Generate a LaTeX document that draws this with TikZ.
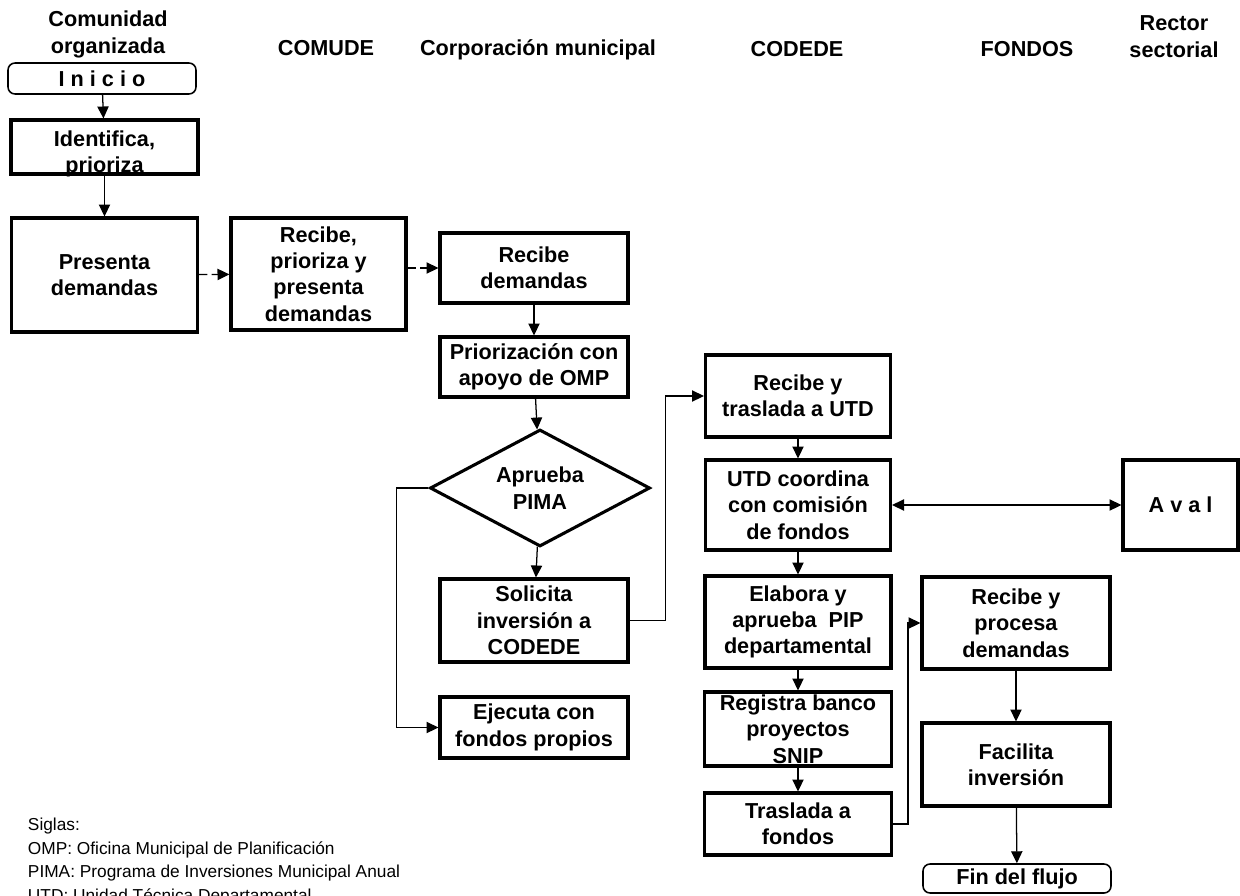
\documentclass[tikz,border=0pt]{standalone}
\usepackage{fontspec}
\setmainfont{Liberation Sans}
\usepackage{tikz}
\usetikzlibrary{arrows.meta,shapes.geometric,positioning}

\tikzset{
  caja/.style={draw, line width=2.2pt, align=center, inner sep=1pt,
    font=\fontsize{15.4}{18.7}\selectfont\bfseries},
  terminal/.style={caja, line width=1.1pt, rounded corners=5pt},
  decision/.style={caja, diamond, aspect=1.9, inner sep=0pt},
  tam/.style 2 args={minimum width=#1*0.025cm, minimum height=#2*0.025cm},
  encab/.style={align=center, font=\fontsize{15.4}{18.7}\selectfont\bfseries},
  flecha/.style={->, line width=0.9pt},
  discont/.style={dash pattern=on 6pt off 3pt},
}

\begin{document}
\begin{tikzpicture}[x=0.025cm, y=-0.025cm, >={Triangle[length=8.5pt,width=8pt]}]
  \useasboundingbox (0,0) rectangle (1240,895);

  % encabezados de columna
  \node[encab, anchor=base] (hcom)  at (108,53)  {Comunidad\\organizada};
  \node[encab, anchor=base] (hcmu)  at (326,55)  {COMUDE};
  \node[encab, anchor=base] (hcor)  at (538,55)  {Corporación municipal};
  \node[encab, anchor=base] (hcod)  at (797,56)  {CODEDE};
  \node[encab, anchor=base] (hfon)  at (1027,56) {FONDOS};
  \node[encab, anchor=base] (hrec)  at (1174,57) {Rector\\sectorial};

  % comunidad organizada
  \node[terminal, tam={188}{31}]  (ini)  at (102,78.5) {I n i c i o};
  \node[caja, tam={187}{54},
    label={[encab, yshift=-5pt]center:Identifica,\\prioriza}] (ide) at (104.5,147) {};
  \node[caja, tam={186}{114}]     (pre)  at (104.5,275) {Presenta\\demandas};

  % COMUDE
  \node[caja, tam={175}{112}]     (rpp)  at (318.5,274) {Recibe,\\prioriza y\\presenta\\demandas};

  % corporacion municipal
  \node[caja, tam={188}{70}]      (rde)  at (534,268) {Recibe\\demandas};
  \node[caja, tam={188}{60}]      (pri)  at (534,367) {Priorización con\\apoyo de OMP};
  \node[decision, tam={220}{117}] (apr)  at (540,488) {Aprueba\\PIMA};
  \node[caja, tam={188}{83}]      (sol)  at (534,620.5) {Solicita\\inversión a\\CODEDE};
  \node[caja, tam={188}{61}]      (eje)  at (534,727.5) {Ejecuta con\\fondos propios};

  % CODEDE
  \node[caja, tam={185}{82}]      (rtu)  at (798,396) {Recibe y\\traslada a UTD};
  \node[caja, tam={185}{90}]      (utd)  at (798,505) {UTD coordina\\con comisión\\de fondos};
  \node[caja, tam={186}{92}]      (ela)  at (798,622) {Elabora y\\aprueba~~PIP\\departamental};
  \node[caja, tam={187}{74},
    label={[encab]center:Registra banco\\proyectos\\SNIP}] (reg) at (798,729) {};
  \node[caja, tam={187}{62}]      (tra)  at (798,824) {Traslada a\\fondos};

  % rector sectorial
  \node[caja, tam={115}{90}]      (ava)  at (1180.5,505) {A v a l};

  % fondos
  \node[caja, tam={188}{92}]      (rpd)  at (1016,623) {Recibe y\\procesa\\demandas};
  \node[caja, tam={188}{83}]      (fac)  at (1016,764.5) {Facilita\\inversión};
  \node[terminal, tam={188}{29}]  (fin)  at (1017,878.5) {Fin del flujo};

  \path [flecha]
    (ini) edge (ide)
    (ide) edge (pre)
    (pre) edge [discont] (rpp)
    (rpp.east |- rde) edge [discont] (rde)
    (rde) edge (pri)
    (pri) edge (apr)
    (apr) edge (sol)
    (rtu) edge (utd)
    (utd) edge (ela)
    (ela) edge (reg)
    (reg) edge (tra)
    (rpd) edge (fac)
    (fac) edge (fin);

  \draw [flecha] (sol.east) -- ++(36,0) |- (rtu.west);
  \draw [flecha] (apr.west) -- ++(-32,0) |- (eje.west);
  \draw [flecha] (tra.east) -- ++(15,0) |- (rpd.west);
  \draw [line width=0.9pt, <->] (utd.east) -- (ava.west);

  % siglas
  \node[align=left, anchor=base west, font=\fontsize{12.3}{16.7}\selectfont] (sig) at (23,901)
    {Siglas:\\OMP: Oficina Municipal de Planificación\\PIMA: Programa de Inversiones Municipal Anual\\UTD: Unidad Técnica Departamental};
\end{tikzpicture}
\end{document}
